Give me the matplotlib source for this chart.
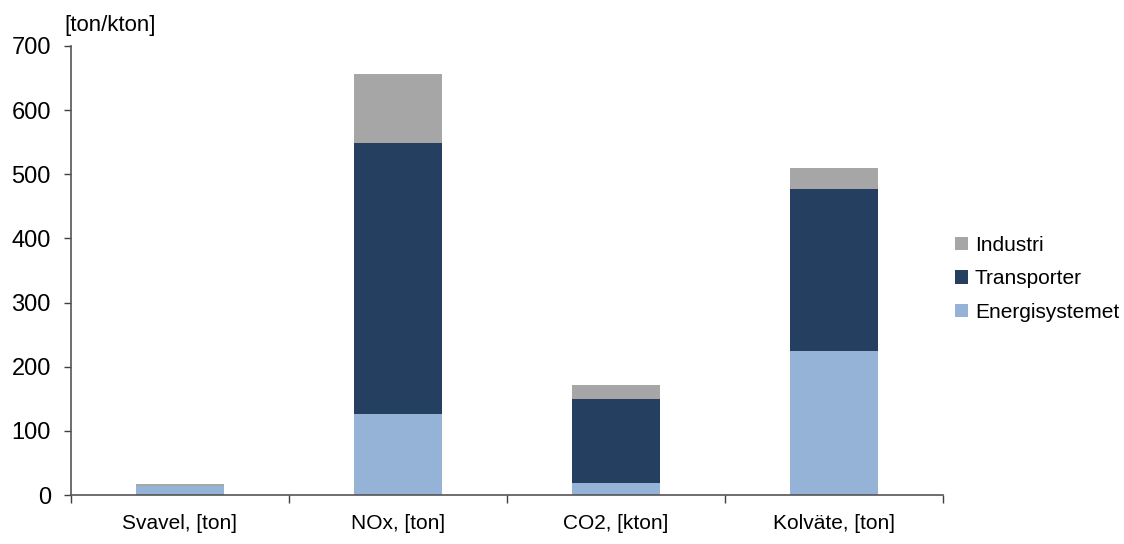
import matplotlib
matplotlib.use("Agg")
import matplotlib.pyplot as plt
from matplotlib.ticker import FixedLocator, NullFormatter
import numpy as np

plt.rcParams['font.family'] = ['Liberation Sans', 'DejaVu Sans']

categories = ["Svavel, [ton]", "NOx, [ton]", "CO2, [kton]", "Kolväte, [ton]"]
energisystemet = [14, 126, 19, 224]
transporter = [0, 422, 130, 253]
industri = [3, 109, 22, 33]

series_names = ["Energisystemet", "Transporter", "Industri"]
colors = ["#95B3D7", "#243F60", "#A6A6A6"]
y_ticks = [0, 100, 200, 300, 400, 500, 600, 700]
y_unit = "[ton/kton]"

W, H = 1124, 544
fig = plt.figure(figsize=(W / 100, H / 100), dpi=100)
ax = fig.add_axes([71 / W, 49 / H, (943 - 71) / W, (495 - 46) / H])

x = np.arange(len(categories))
bottom = np.zeros(len(categories))
handles = []
for name, vals, col in zip(series_names, [energisystemet, transporter, industri], colors):
    h = ax.bar(x, vals, width=0.4, bottom=bottom, color=col, edgecolor="none", label=name)
    handles.append(h)
    bottom += np.array(vals)

ax.set_xlim(-0.5, len(categories) - 0.5)
ax.set_ylim(0, 700)
ax.set_yticks(y_ticks)
ax.tick_params(axis="y", direction="out", length=5, width=1, color="#404040", labelsize=17, pad=9.5)

ax.set_xticks(x)
ax.set_xticklabels(categories, fontsize=15)
ax.tick_params(axis="x", which="major", length=0, pad=14)
ax.xaxis.set_minor_locator(FixedLocator(np.arange(-0.5, len(categories), 1.0)))
ax.xaxis.set_minor_formatter(NullFormatter())
ax.tick_params(axis="x", which="minor", direction="out", length=6, width=1, color="#404040")

for s in ["top", "right"]:
    ax.spines[s].set_visible(False)
for s in ["left", "bottom"]:
    ax.spines[s].set_color("#555555")
    ax.spines[s].set_linewidth(1.2)

fig.text(64 / W, 1 - 25 / H, y_unit, fontsize=16, ha="left", va="center")

leg = fig.legend(handles[::-1], series_names[::-1], loc="center left",
                 bbox_to_anchor=(955 / W, 1 - 279 / H), frameon=False,
                 fontsize=15, handlelength=0.62, handleheight=0.62,
                 handletextpad=0.33, labelspacing=0.7, borderpad=0, borderaxespad=0)

fig.savefig("out.png", dpi=100)
